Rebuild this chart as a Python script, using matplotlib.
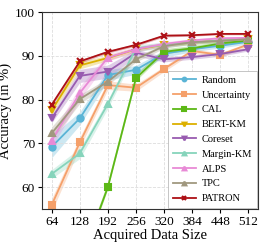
import numpy as np
import matplotlib
matplotlib.use('Agg')
import matplotlib.pyplot as plt

plt.rcParams['font.family'] = ['Liberation Serif', 'DejaVu Serif']

sizes = [64, 128, 192, 256, 320, 384, 448, 512]

random_acc = [69.2, 75.7, 85.6, 86.8, 90.5, 91.5, 92.3, 93.2]
uncertainty_acc = [55.9, 70.2, 83.3, 82.7, 87.0, 91.1, 90.2, 92.6]
cal_acc = [30.0, 42.5, 60.0, 84.9, 90.9, 91.7, 92.8, 93.5]
bertkm_acc = [77.5, 87.8, 89.5, 91.5, 92.5, 93.0, 93.5, 93.8]
coreset_acc = [75.7, 85.4, 86.4, 90.7, 89.2, 89.7, 90.4, 91.5]
marginkm_acc = [63.0, 67.7, 79.0, 91.7, 92.5, 93.0, 93.5, 93.8]
alps_acc = [70.6, 81.5, 89.6, 91.5, 92.7, 93.5, 94.0, 94.1]
tpc_acc = [72.3, 80.1, 84.1, 89.2, 92.2, 93.1, 93.4, 93.8]
patron_acc = [78.8, 88.7, 90.9, 92.5, 94.6, 94.7, 95.0, 95.0]

random_std = [2.5, 1.5, 1.2, 1.0, 0.8, 0.6, 0.5, 0.5]
uncertainty_std = [1.5, 1.2, 1.0, 0.8, 0.6, 0.5, 0.5, 0.4]
cal_std = [1.0, 1.0, 0.8, 0.8, 0.6, 0.5, 0.4, 0.4]
bertkm_std = [0.8, 0.8, 0.6, 0.5, 0.4, 0.4, 0.3, 0.3]
coreset_std = [1.0, 1.5, 1.5, 0.8, 0.6, 0.5, 0.5, 0.4]
marginkm_std = [1.0, 1.2, 1.0, 0.8, 0.6, 0.5, 0.4, 0.4]
alps_std = [1.5, 1.5, 0.8, 0.6, 0.5, 0.4, 0.4, 0.3]
tpc_std = [1.5, 1.0, 0.8, 0.6, 0.5, 0.4, 0.4, 0.3]
patron_std = [0.5, 0.4, 0.3, 0.3, 0.3, 0.2, 0.2, 0.2]

labels = ['Random', 'Uncertainty', 'CAL', 'BERT-KM', 'Coreset',
          'Margin-KM', 'ALPS', 'TPC', 'PATRON']
series = [random_acc, uncertainty_acc, cal_acc, bertkm_acc, coreset_acc,
          marginkm_acc, alps_acc, tpc_acc, patron_acc]
stds = [random_std, uncertainty_std, cal_std, bertkm_std, coreset_std,
        marginkm_std, alps_std, tpc_std, patron_std]
colors = ['#5ab4d6', '#f5a06a', '#5cb816', '#dcb000', '#985cb0',
          '#86d4bb', '#e88ad6', '#a0987f', '#ad1016']
markers = ['o', 's', 's', 'v', 'v', '^', '^', '^', 'x']

fig = plt.figure(figsize=(2.66, 2.45), dpi=100)
ax = fig.add_axes([0.158, 0.147, 0.812, 0.804])

x = np.array(sizes)
for lab, y, s, c, m in zip(labels, series, stds, colors, markers):
    y = np.array(y)
    s = np.array(s)
    ax.fill_between(x, y - s, y + s, color=c, alpha=0.3, linewidth=0)
    ax.plot(x, y, color=c, marker=m, markersize=4.5, markeredgewidth=1.5,
            linewidth=1.3, label=lab)

ax.set_xlim(42, 534)
ax.set_ylim(55, 100)
ax.set_xticks(sizes)
ax.set_yticks([60, 70, 80, 90, 100])
ax.tick_params(labelsize=9.5, length=3, pad=2)
ax.grid(True, linestyle='--', color='#dddddd', linewidth=0.6)
for sp in ax.spines.values():
    sp.set_color('#333333')

ax.set_xlabel('Acquired Data Size', fontsize=10.5, labelpad=1)
ax.set_ylabel('Accuracy (in %)', fontsize=10.5, labelpad=2)

leg = ax.legend(loc='lower right', fontsize=7.5, frameon=True, fancybox=False,
                edgecolor='#bbbbbb', handlelength=2.2, labelspacing=0.53,
                borderpad=0.45, borderaxespad=0.1, markerscale=0.6,
                handletextpad=0.6, framealpha=1)
leg.get_frame().set_linewidth(0.6)

fig.savefig('out.png', dpi=100)
